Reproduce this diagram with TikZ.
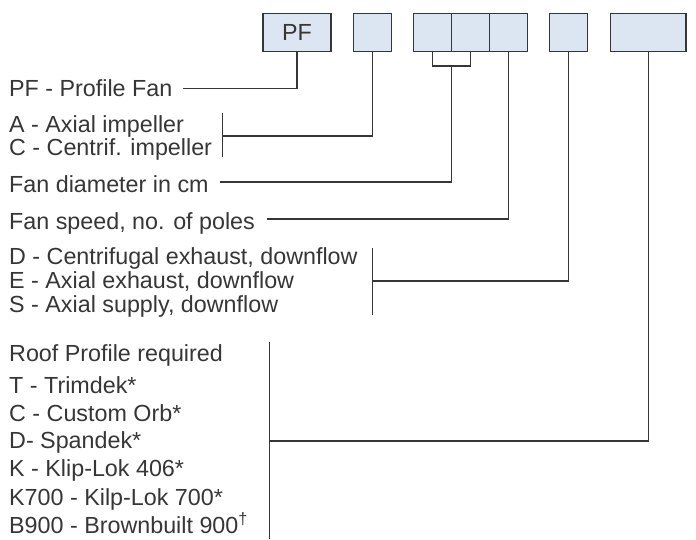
\documentclass[tikz,border=0pt]{standalone}
\usepackage{fontspec}
\setmainfont{Liberation Sans}
\usepackage{xcolor}
\usepackage{tikz}
\usetikzlibrary{calc,positioning}
\definecolor{inkgray}{HTML}{363636}
\definecolor{cellblue}{HTML}{DCE6F2}
\tikzset{
  cell/.style={rectangle, draw=inkgray, fill=cellblue, line width=1.2pt, outer sep=0pt, inner sep=0pt, minimum width=38pt, minimum height=38.5pt, text=inkgray, font=\fontsize{23.3}{26}\selectfont},
  entry/.style={anchor=base west, inner sep=0pt, text=inkgray, font=\fontsize{23.3}{26}\selectfont},
  wire/.style={draw=inkgray, line width=1.2pt}
}

\begin{document}
\begin{tikzpicture}[x=1pt,y=-1pt]
			\useasboundingbox (0,0) rectangle (696,539);
			% code boxes
			\node[cell,minimum width=68pt] (pf) at (297,32.5) {PF};
			\node[cell] (impl) at (372.5,32.5) {};
			\node[cell] (dia1) at (432.7,32.5) {};
			\node[cell,right=0pt of dia1] (dia2) {};
			\node[cell,right=0pt of dia2] (spd) {};
			\node[cell] (flow) at (568.8,32.5) {};
			\node[cell,minimum width=75.3pt] (roof) at (648.3,32.5) {};
			% descriptions
			\node[entry] (tpf) at (9,96.7) {PF - Profile Fan};
			\node[entry] (tax) at (9,132.7) {A - Axial impeller};
			\node[entry] (tcf) at (9,155.7) {C - Centrif. impeller};
			\node[entry] (tdia) at (9,192.7) {Fan diameter in cm};
			\node[entry] (tspd) at (9,229) {Fan speed, no. of poles};
			\node[entry] (tfd) at (9,264.3) {D - Centrifugal exhaust, downflow};
			\node[entry] (tfe) at (9,288.3) {E - Axial exhaust, downflow};
			\node[entry] (tfs) at (9,312.3) {S - Axial supply, downflow};
			\node[entry] (troof) at (9,361.7) {Roof Profile required};
			\node[entry] (tr1) at (9,393.3) {T - Trimdek*};
			\node[entry] (tr2) at (9,421.7) {C - Custom Orb*};
			\node[entry] (tr3) at (9,448.3) {D- Spandek*};
			\node[entry] (tr4) at (9,476.7) {K - Klip-Lok 406*};
			\node[entry] (tr5) at (9,505) {K700 - Kilp-Lok 700*};
			\node[entry] (tr6) at (9,533.3) {B900 - Brownbuilt 900\textsuperscript{\textdagger}};
			% connector ends
			\coordinate (pfend) at (183,88.3);
			\coordinate (imtop) at (222.7,113.3);
			\coordinate (imbot) at (222.7,157.3);
			\coordinate (immid) at (222.7,136);
			\coordinate (brk) at ($(dia1.south)!.5!(dia2.south)+(0,14.2)$);
			\coordinate (diaend) at (220,182);
			\coordinate (spdend) at (266.7,219);
			\coordinate (fltop) at (372.3,248);
			\coordinate (flbot) at (372.3,315);
			\coordinate (flmid) at (372.3,281);
			\coordinate (rftop) at (269.3,342);
			\coordinate (rfbot) at (269.3,538.5);
			\coordinate (rfmid) at (269.3,441);
			% connectors
			\draw[wire] (pf.south) |- (pfend);
			\draw[wire] (imtop) -- (imbot);
			\draw[wire] (impl.south) |- (immid);
			\draw[wire] (dia1.south) -- ++(0,14.2) -| (dia2.south);
			\draw[wire] (brk) |- (diaend);
			\draw[wire] (spd.south) |- (spdend);
			\draw[wire] (fltop) -- (flbot);
			\draw[wire] (flow.south) |- (flmid);
			\draw[wire] (rftop) -- (rfbot);
			\draw[wire] (roof.south) |- (rfmid);
\end{tikzpicture}
\end{document}
